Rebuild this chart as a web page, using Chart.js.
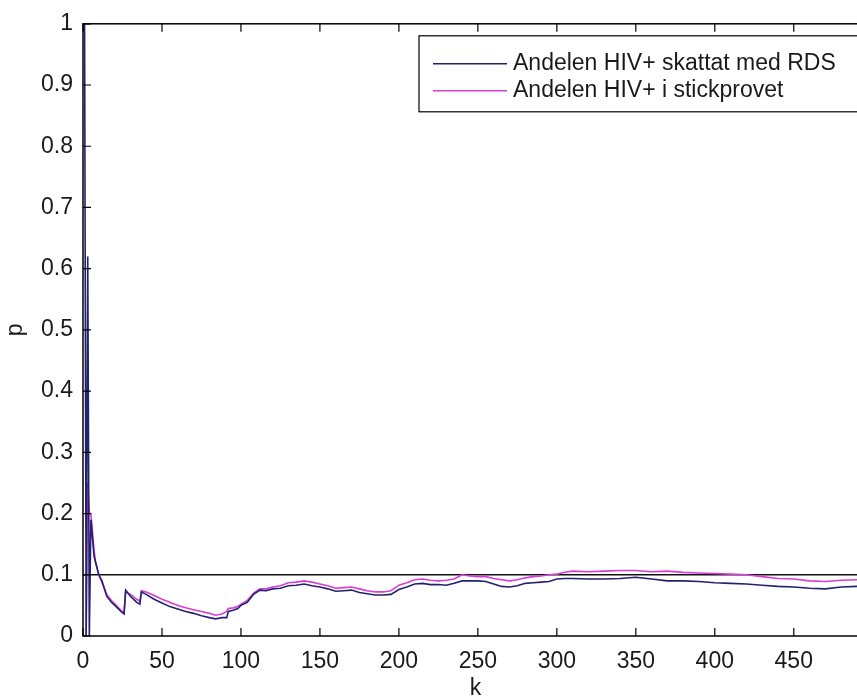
<!DOCTYPE html>
<html>
<head>
<meta charset="utf-8">
<script src="https://cdn.jsdelivr.net/npm/chart.js@4.4.0/dist/chart.umd.min.js"></script>
<style>
  html, body { margin: 0; padding: 0; background: #fff; overflow: hidden; }
  #wrap { width: 857px; height: 699px; overflow: hidden; }
</style>
</head>
<body>
<div id="wrap"><canvas id="myChart" width="900" height="699"></canvas></div>
<script>
// data
const kValues = [1, 2, 3, 4, 5, 6, 7, 8, 9, 10, 12, 15, 18, 21, 24, 26, 27, 30, 34, 36, 37, 40, 45, 50, 55, 60, 65, 70, 75, 80,
    84, 88, 91, 92, 95, 98, 100, 104, 108, 112, 116, 120, 125, 130, 135, 140, 145, 150, 155, 160, 165, 170, 175, 180, 185, 190,
    195, 200, 205, 210, 215, 220, 225, 230, 235, 240, 245, 250, 255, 260, 265, 270, 275, 280, 285, 290, 295, 300, 305, 310,
    320, 330, 340, 350, 360, 370, 380, 390, 400, 410, 420, 430, 440, 450, 460, 470, 480, 490, 497];

const rdsValues = [1.0, 0.0, 0.62, 0.0, 0.19, 0.16, 0.13, 0.12, 0.11, 0.1, 0.09, 0.065, 0.055, 0.048, 0.04, 0.036, 0.075, 0.065,
    0.055, 0.052, 0.072, 0.068, 0.06, 0.054, 0.048, 0.044, 0.04, 0.037, 0.033, 0.03, 0.028, 0.03, 0.03, 0.04, 0.042, 0.045, 0.05,
    0.055, 0.068, 0.075, 0.074, 0.077, 0.078, 0.082, 0.083, 0.085, 0.082, 0.08, 0.077, 0.073, 0.074, 0.075, 0.071, 0.069, 0.067,
    0.067, 0.068, 0.076, 0.08, 0.085, 0.086, 0.084, 0.084, 0.083, 0.086, 0.09, 0.09, 0.09, 0.089, 0.085, 0.081, 0.08, 0.082,
    0.086, 0.087, 0.088, 0.089, 0.093, 0.094, 0.094, 0.093, 0.093, 0.094, 0.096, 0.093, 0.09, 0.09, 0.089, 0.087, 0.086, 0.085,
    0.083, 0.081, 0.08, 0.078, 0.077, 0.08, 0.081, 0.081];

const sampleValues = [0.0, 0.0, 0.25, 0.2, 0.2, 0.17, 0.14, 0.12, 0.11, 0.1, 0.088, 0.068, 0.058, 0.05, 0.042, 0.038, 0.072, 0.068,
    0.06, 0.057, 0.074, 0.072, 0.066, 0.06, 0.055, 0.05, 0.046, 0.043, 0.04, 0.037, 0.034, 0.036, 0.04, 0.045, 0.046, 0.048, 0.052,
    0.058, 0.07, 0.077, 0.077, 0.08, 0.082, 0.087, 0.088, 0.09, 0.088, 0.085, 0.082, 0.078, 0.079, 0.08, 0.077, 0.074, 0.072,
    0.072, 0.074, 0.083, 0.087, 0.092, 0.093, 0.091, 0.09, 0.091, 0.093, 0.1, 0.098, 0.097, 0.097, 0.094, 0.092, 0.09, 0.092,
    0.095, 0.097, 0.098, 0.1, 0.101, 0.104, 0.106, 0.105, 0.106, 0.107, 0.107, 0.105, 0.106, 0.104, 0.103, 0.102, 0.101, 0.1,
    0.097, 0.094, 0.093, 0.09, 0.089, 0.091, 0.092, 0.092];

const refK = [0, 497];
const refP = [0.1, 0.1];

const seriesLabels = ['Andelen HIV+ skattat med RDS', 'Andelen HIV+ i stickprovet'];
const xTickValues = [0, 50, 100, 150, 200, 250, 300, 350, 400, 450];
const xTickLabels = ['0', '50', '100', '150', '200', '250', '300', '350', '400', '450'];
const yTickValues = [0, 0.1, 0.2, 0.3, 0.4, 0.5, 0.6, 0.7, 0.8, 0.9, 1];
const yTickLabels = ['0', '0.1', '0.2', '0.3', '0.4', '0.5', '0.6', '0.7', '0.8', '0.9', '1'];

const toPoints = (xs, ys) => xs.map((x, i) => ({ x: x, y: ys[i] }));
const font = { family: 'Liberation Sans, Arial, sans-serif', size: 23 };
const textColor = '#1a1a1a';

// frame with inward ticks and the boxed legend, like the matlab figure
const matlabFrame = {
    id: 'matlabFrame',
    afterDatasetsDraw(chart) {
        const { ctx, chartArea: a, scales } = chart;
        const tl = 8;
        ctx.save();
        ctx.strokeStyle = '#000';
        ctx.lineWidth = 1.5;
        ctx.strokeRect(a.left, a.top, a.right - a.left, a.bottom - a.top);
        ctx.lineWidth = 1.2;
        ctx.beginPath();
        xTickValues.forEach(v => {
            const px = scales.x.getPixelForValue(v);
            ctx.moveTo(px, a.bottom); ctx.lineTo(px, a.bottom - tl);
            ctx.moveTo(px, a.top); ctx.lineTo(px, a.top + tl);
        });
        yTickValues.forEach(v => {
            const py = scales.y.getPixelForValue(v);
            ctx.moveTo(a.left, py); ctx.lineTo(a.left + tl, py);
            ctx.moveTo(a.right, py); ctx.lineTo(a.right - tl, py);
        });
        ctx.stroke();

        // legend
        const bx = a.left + 336, by = a.top + 12, bw = a.right - 6 - bx, bh = 76;
        ctx.fillStyle = '#fff';
        ctx.fillRect(bx, by, bw, bh);
        ctx.lineWidth = 1.2;
        ctx.strokeStyle = '#000';
        ctx.strokeRect(bx, by, bw, bh);
        ctx.font = font.size + 'px ' + font.family;
        ctx.textBaseline = 'middle';
        ctx.textAlign = 'left';
        [0, 1].forEach(i => {
            const ds = chart.data.datasets[i];
            const y = by + 28 + i * 27;
            ctx.strokeStyle = ds.borderColor;
            ctx.lineWidth = 1.5;
            ctx.beginPath();
            ctx.moveTo(bx + 14, y); ctx.lineTo(bx + 88, y);
            ctx.stroke();
            ctx.fillStyle = textColor;
            ctx.fillText(seriesLabels[i], bx + 94, y);
        });
        ctx.restore();
    }
};

const ctx = document.getElementById('myChart').getContext('2d');
let chart = new Chart(ctx, {
    type: 'line',
    data: {
        datasets: [{
            label: seriesLabels[0],
            data: toPoints(kValues, rdsValues),
            borderColor: '#22226f',
            borderWidth: 1.6,
            pointRadius: 0,
            tension: 0
        }, {
            label: seriesLabels[1],
            data: toPoints(kValues, sampleValues),
            borderColor: '#d83cd8',
            borderWidth: 1.6,
            pointRadius: 0,
            tension: 0
        }, {
            label: 'ref',
            data: toPoints(refK, refP),
            borderColor: '#111',
            borderWidth: 1.5,
            pointRadius: 0
        }]
    },
    options: {
        responsive: false,
        animation: false,
        devicePixelRatio: 1,
        layout: { padding: { top: 22, right: 32, left: 0, bottom: 0 } },
        plugins: { legend: { display: false }, tooltip: { enabled: false } },
        scales: {
            x: {
                type: 'linear',
                min: 0,
                max: 497,
                grid: { display: false, drawTicks: false },
                border: { display: false },
                afterBuildTicks: s => { s.ticks = xTickValues.map(v => ({ value: v })); },
                afterFit: s => { s.height = 63; },
                ticks: {
                    font: font,
                    color: textColor,
                    padding: 12,
                    maxRotation: 0,
                    autoSkip: false,
                    callback: (v, i) => xTickLabels[i]
                },
                title: { display: true, text: 'k', font: font, color: textColor, padding: { top: 0, bottom: -3 } }
            },
            y: {
                type: 'linear',
                min: 0,
                max: 1,
                grid: { display: false, drawTicks: false },
                border: { display: false },
                afterBuildTicks: s => { s.ticks = yTickValues.map(v => ({ value: v })); },
                afterFit: s => { s.width = 83; },
                ticks: {
                    font: font,
                    color: textColor,
                    padding: 10,
                    autoSkip: false,
                    callback: (v, i) => yTickLabels[i]
                },
                title: { display: true, text: 'p', font: font, color: textColor, padding: { top: 2, bottom: 0 } }
            }
        }
    },
    plugins: [matlabFrame]
});
</script>
</body>
</html>
